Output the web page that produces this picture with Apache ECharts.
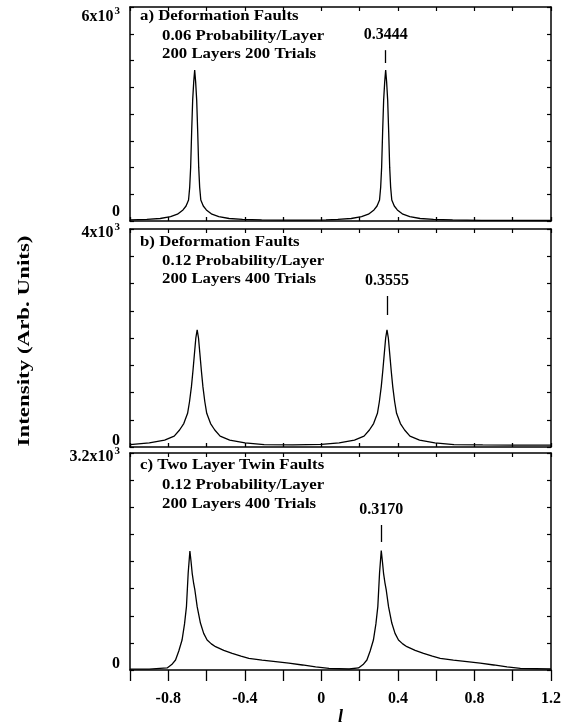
<!DOCTYPE html>
<html><head><meta charset="utf-8">
<script src="https://cdn.jsdelivr.net/npm/echarts@6/dist/echarts.min.js"></script>
<style>html,body{margin:0;padding:0;background:#fff}#c{width:574px;height:722px}</style>
</head><body><div id="c"></div>
<script>
// ---- data ----
const xMin = -1.0, xMax = 1.2, xStep = 0.2;
const xTickValues = [-0.8, -0.4, 0, 0.4, 0.8, 1.2];
const xTickLabels = ['-0.8', '-0.4', '0', '0.4', '0.8', '1.2'];
const yMaxes = [6000, 4000, 3200];
const ySteps = [750, 500, 400];
const yTopBase = ['6x10', '4x10', '3.2x10'];
const yTopExp = ['3', '3', '3'];
const yAxisTitle = 'Intensity (Arb. Units)';
const xAxisTitle = 'l';
const panelTitles = [
  ['a) Deformation Faults', '0.06 Probability/Layer', '200 Layers 200 Trials'],
  ['b) Deformation Faults', '0.12 Probability/Layer', '200 Layers 400 Trials'],
  ['c) Two Layer Twin Faults', '0.12 Probability/Layer', '200 Layers 400 Trials']
];
const panelA = [[-1.0,30],[-0.912,45],[-0.842,70],[-0.788,120],[-0.752,190],[-0.723,310],[-0.707,420],[-0.694,590],[-0.688,950],[-0.683,1510],[-0.678,2470],[-0.6725,3390],[-0.667,3900],[-0.662,4230],[-0.657,3900],[-0.6515,3390],[-0.646,2470],[-0.641,1510],[-0.636,950],[-0.630,590],[-0.617,420],[-0.601,310],[-0.572,190],[-0.536,120],[-0.482,70],[-0.412,45],[-0.312,30],[-0.162,22],[-0.06,24],[0.024,30],[0.086,45],[0.156,70],[0.21,120],[0.246,190],[0.275,310],[0.291,420],[0.304,590],[0.310,950],[0.315,1510],[0.320,2470],[0.3255,3390],[0.331,3900],[0.336,4230],[0.341,3900],[0.3465,3390],[0.352,2470],[0.357,1510],[0.362,950],[0.368,590],[0.381,420],[0.397,310],[0.426,190],[0.462,120],[0.516,70],[0.586,45],[0.686,30],[0.836,20],[1.0,16],[1.2,14]];
const panelB = [[-1.0,45],[-0.899,75],[-0.819,128],[-0.769,200],[-0.741,312],[-0.719,430],[-0.699,618],[-0.689,830],[-0.679,1107],[-0.671,1400],[-0.663,1719],[-0.656,2000],[-0.649,2150],[-0.642,2000],[-0.635,1719],[-0.627,1400],[-0.619,1107],[-0.609,830],[-0.599,618],[-0.579,430],[-0.557,312],[-0.529,200],[-0.479,128],[-0.399,75],[-0.299,45],[-0.149,38],[0.0,48],[0.093,75],[0.173,128],[0.223,200],[0.251,312],[0.273,430],[0.293,618],[0.303,830],[0.313,1107],[0.321,1400],[0.329,1719],[0.336,2000],[0.343,2150],[0.350,2000],[0.357,1719],[0.365,1400],[0.373,1107],[0.383,830],[0.393,618],[0.413,430],[0.435,312],[0.463,200],[0.513,128],[0.593,75],[0.693,45],[0.843,38],[1.0,35],[1.2,33]];
const panelC = [[-1.0,12],[-0.9,14],[-0.806,30],[-0.782,80],[-0.762,147],[-0.745,280],[-0.728,442],[-0.715,680],[-0.705,934],[-0.696,1426],[-0.687,1755],[-0.681,1600],[-0.675,1426],[-0.668,1290],[-0.661,1180],[-0.649,934],[-0.632,693],[-0.615,540],[-0.597,442],[-0.575,385],[-0.553,344],[-0.51,290],[-0.466,246],[-0.42,205],[-0.379,172],[-0.31,145],[-0.239,123],[-0.17,100],[-0.099,74],[-0.03,45],[0.04,25],[0.145,15],[0.194,30],[0.218,80],[0.238,147],[0.255,280],[0.272,442],[0.285,680],[0.295,934],[0.304,1426],[0.313,1760],[0.319,1600],[0.325,1426],[0.332,1290],[0.339,1180],[0.351,934],[0.368,693],[0.385,540],[0.403,442],[0.425,385],[0.447,344],[0.49,290],[0.534,246],[0.58,205],[0.621,172],[0.69,145],[0.761,123],[0.83,100],[0.901,74],[0.97,45],[1.04,25],[1.2,15]];
const peakLabelText = ['0.3444', '0.3555', '0.3170'];
const peakLabelX = [0.336, 0.343, 0.313];
const peakTickLow = [4430, 2422, 1888];
const peakTickHigh = [4790, 2771, 2138];

// ---- layout / style ----
const SERIF = "'Liberation Serif','DejaVu Serif',serif";
const gridBoxes = [
  {left: 130, right: 23, top: 7, height: 214},
  {left: 130, right: 23, top: 229, height: 218},
  {left: 130, right: 23, top: 453, height: 217}
];
const topShift = [10, 4, 4];
const zeroShift = [9, 6, 6];
const titleX = [140, 162];
const titleY = [[16, 36, 54], [242, 261, 279], [465, 485, 504]];
const panels = [panelA, panelB, panelC];

const lineAxis = {show: true, onZero: false, lineStyle: {color: '#000', width: 1.5}};
const xAxes = [], yAxes = [], series = [], graphics = [];
for (let i = 0; i < 3; i++) {
  const last = i === 2;
  xAxes.push({
    type: 'value', gridIndex: i, position: 'bottom', min: xMin, max: xMax, interval: xStep,
    axisLine: lineAxis, splitLine: {show: false},
    axisTick: {show: true, inside: !last, length: last ? 11 : 4, lineStyle: {color: '#000', width: 1.3}},
    axisLabel: {show: last, margin: 21, color: '#000', fontFamily: SERIF, fontWeight: 'bold', fontSize: 16,
      formatter: v => { const k = xTickValues.findIndex(t => Math.abs(t - v) < 1e-6); return k >= 0 ? xTickLabels[k] : ''; }},
    name: last ? xAxisTitle : '', nameLocation: 'middle', nameGap: 30,
    nameTextStyle: {color: '#000', fontFamily: SERIF, fontStyle: 'italic', fontWeight: 'bold', fontSize: 18}
  });
  xAxes.push({
    type: 'value', gridIndex: i, position: 'top', min: xMin, max: xMax, interval: xStep,
    axisLine: lineAxis, splitLine: {show: false}, axisLabel: {show: false},
    axisTick: {show: true, inside: true, length: 4, lineStyle: {color: '#000', width: 1.2}}
  });
  const M = yMaxes[i];
  const ts = topShift[i] * 2, zs = zeroShift[i] * 2;
  yAxes.push({
    type: 'value', gridIndex: i, position: 'left', min: 0, max: M, interval: ySteps[i],
    axisLine: lineAxis, splitLine: {show: false},
    axisTick: {show: true, inside: true, length: 4, lineStyle: {color: '#000', width: 1.2}},
    axisLabel: {show: true, margin: 10, color: '#000', fontFamily: SERIF, fontWeight: 'bold', fontSize: 16,
      showMinLabel: true, showMaxLabel: true,
      formatter: v => {
        if (v === 0) return '{z|0}';
        if (v === M) return '{t|' + yTopBase[i] + '}{s|' + yTopExp[i] + '}';
        return '';
      },
      rich: {
        z: {fontFamily: SERIF, fontWeight: 'bold', fontSize: 16, color: '#000', lineHeight: 20, padding: [0, 0, zs, 0]},
        t: {fontFamily: SERIF, fontWeight: 'bold', fontSize: 16, color: '#000', lineHeight: 20, padding: [ts, 0, 0, 0]},
        s: {fontFamily: SERIF, fontWeight: 'bold', fontSize: 11, color: '#000', lineHeight: 20, padding: [ts, 0, 11, 1]}
      }}
  });
  yAxes.push({
    type: 'value', gridIndex: i, position: 'right', min: 0, max: M, interval: ySteps[i],
    axisLine: lineAxis, splitLine: {show: false}, axisLabel: {show: false},
    axisTick: {show: true, inside: true, length: 4, lineStyle: {color: '#000', width: 1.2}}
  });
  series.push({
    type: 'line', xAxisIndex: i * 2, yAxisIndex: i * 2, data: panels[i],
    showSymbol: false, symbol: 'none', lineStyle: {color: '#000', width: 1.3}, silent: true,
    markLine: {
      symbol: 'none', silent: true, animation: false,
      lineStyle: {color: '#000', width: 1.3, type: 'solid'},
      label: {show: true, position: 'end', distance: 7, formatter: peakLabelText[i], color: '#000',
        fontFamily: SERIF, fontWeight: 'bold', fontSize: 16},
      data: [[{coord: [peakLabelX[i], peakTickLow[i]]}, {coord: [peakLabelX[i], peakTickHigh[i]]}]]
    }
  });
  for (let j = 0; j < 3; j++) {
    graphics.push({
      type: 'text', x: j === 0 ? titleX[0] : titleX[1], y: titleY[i][j], scaleX: 1.12,
      style: {text: panelTitles[i][j], fill: '#000', font: 'bold 15px ' + SERIF, verticalAlign: 'middle', align: 'left'}
    });
  }
}
graphics.push({
  type: 'text', x: 25, y: 341, rotation: Math.PI / 2, scaleX: 1.35,
  style: {text: yAxisTitle, fill: '#000', font: 'bold 17px ' + SERIF, verticalAlign: 'middle', align: 'center'}
});

const chart = echarts.init(document.getElementById('c'), null, {renderer: 'canvas'});
chart.setOption({
  animation: false,
  backgroundColor: '#fff',
  grid: gridBoxes.map(g => Object.assign({containLabel: false, outerBoundsMode: 'none'}, g)),
  xAxis: xAxes,
  yAxis: yAxes,
  series: series,
  graphic: graphics
});
</script>
</body></html>
